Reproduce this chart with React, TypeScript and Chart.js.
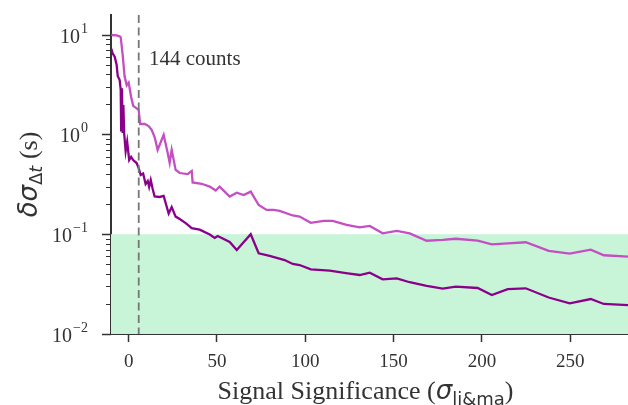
import React, { useEffect, useRef } from 'react';
import { Chart, registerables } from 'chart.js';

Chart.register(...registerables);

// ---- data ----
const upperX = [-9.8, -6.8, -5.1, -4.5, -3.4, -2.3, -1.1, 0.0, 1.4, 2.55, 4.5, 5.66, 6.5, 9.1, 11.3, 13.0, 14.7, 16.4, 19.8, 22.1, 23.2, 24.35, 26.6, 28.9, 33.4, 35.7, 36.2, 41.3, 45.9, 49.3, 51.5, 57.2, 61.2, 65.1, 69.1, 73.6, 78.1, 82.1, 85.5, 92.9, 96.8, 103.1, 110.4, 115.5, 123.4, 130.8, 136.5, 143.8, 151.8, 159.1, 168.7, 177.8, 185.2, 197.6, 205.6, 214.6, 224.8, 237.8, 249.7, 261.6, 269.0, 283.0];
const upperY = [9.9, 9.8, 9.6, 9.4, 6.3, 3.8, 3.1, 3.3, 2.37, 1.93, 1.82, 1.76, 1.27, 1.27, 1.21, 1.11, 0.94, 0.70, 0.99, 0.65, 0.52, 0.70, 0.44, 0.41, 0.40, 0.43, 0.33, 0.32, 0.30, 0.274, 0.30, 0.238, 0.26, 0.247, 0.267, 0.196, 0.175, 0.175, 0.171, 0.154, 0.150, 0.130, 0.136, 0.136, 0.124, 0.117, 0.121, 0.102, 0.108, 0.102, 0.086, 0.0875, 0.090, 0.086, 0.079, 0.081, 0.083, 0.068, 0.064, 0.070, 0.0615, 0.0596];

const lowerX = [-9.8, -9.1, -7.9, -6.8, -6.2, -5.1, -4.5, -4.25, -3.8, -3.4, -3.0, -2.55, -1.7, -0.85, 0.3, 1.4, 2.55, 4.5, 5.66, 6.8, 8.2, 9.6, 10.8, 11.6, 12.5, 13.6, 14.7, 17.55, 19.8, 22.65, 24.35, 26.6, 28.9, 32.3, 35.7, 40.2, 45.9, 48.7, 50.4, 57.2, 61.2, 69.1, 73.6, 79.8, 88.3, 92.9, 96.8, 103.1, 113.8, 124.0, 130.8, 136.5, 143.8, 151.8, 159.1, 168.7, 177.8, 185.2, 197.6, 205.6, 214.6, 224.8, 237.8, 249.7, 261.6, 269.0, 283.0];
const lowerY = [7.2, 6.5, 6.0, 4.95, 3.85, 3.5, 2.8, 1.1, 2.9, 1.03, 1.97, 1.03, 0.68, 0.845, 0.553, 0.594, 0.553, 0.516, 0.46, 0.392, 0.406, 0.318, 0.341, 0.297, 0.349, 0.284, 0.239, 0.236, 0.242, 0.161, 0.187, 0.15, 0.142, 0.129, 0.115, 0.111, 0.0993, 0.0917, 0.096, 0.0836, 0.0695, 0.100, 0.0644, 0.0605, 0.0551, 0.0503, 0.0491, 0.0445, 0.0431, 0.0405, 0.039, 0.0411, 0.0353, 0.0361, 0.033, 0.0303, 0.0285, 0.0298, 0.0289, 0.0246, 0.0282, 0.0287, 0.0232, 0.0203, 0.0224, 0.020, 0.01945];

const xTickValues = [0, 50, 100, 150, 200, 250];
const yDecadeExponents = [-2, -1, 0, 1];
const bandRange = [0.01, 0.1];
const countsLineX = 5.7;
const countsLabel = '144 counts';
const countsLabelPos = [11.5, 5.0];
const xTitleParts = ['Signal Significance (', 'σ', 'li&ma', ')'];
const yTitleParts = ['δσ', 'Δ', 't', ' (s)'];

const X_MIN = -10;
const X_MAX = 282.7;
const Y_MIN = 0.01;
const Y_MAX = 15.7;

const AXIS_COLOR = '#333333';
const TEXT_COLOR = '#333333';
const SERIF = '"Liberation Serif", "Times New Roman", serif';
const SANS = '"DejaVu Sans", sans-serif';

const overlayPlugin = {
  id: 'overlay',
  beforeDatasetsDraw(chart: any) {
    const { ctx, chartArea: ca, scales } = chart;
    const y = scales.y;
    const yTop = y.getPixelForValue(bandRange[1]);
    const yBot = y.getPixelForValue(bandRange[0]);
    ctx.save();
    ctx.fillStyle = 'rgb(200,245,216)';
    ctx.fillRect(ca.left, yTop, ca.right - ca.left, yBot - yTop);
    ctx.restore();
  },
  afterDatasetsDraw(chart: any) {
    const { ctx, chartArea: ca, scales } = chart;
    const x = scales.x;
    const y = scales.y;
    ctx.save();
    const px = x.getPixelForValue(countsLineX);
    ctx.strokeStyle = '#777777';
    ctx.lineWidth = 1.8;
    ctx.setLineDash([8, 4.5]);
    ctx.beginPath();
    ctx.moveTo(px, ca.top);
    ctx.lineTo(px, ca.bottom);
    ctx.stroke();
    ctx.setLineDash([]);
    ctx.fillStyle = TEXT_COLOR;
    ctx.font = `21px ${SERIF}`;
    ctx.textAlign = 'left';
    ctx.textBaseline = 'alphabetic';
    ctx.fillText(countsLabel, x.getPixelForValue(countsLabelPos[0]), y.getPixelForValue(countsLabelPos[1]));
    ctx.restore();
  },
  afterDraw(chart: any) {
    const { ctx, chartArea: ca, scales } = chart;
    const y = scales.y;
    ctx.save();
    // y ticks (major + minor)
    ctx.strokeStyle = AXIS_COLOR;
    for (const e of yDecadeExponents) {
      const base = Math.pow(10, e);
      for (let k = 1; k <= 9; k++) {
        const v = base * k;
        if (v < Y_MIN - 1e-12 || v > Y_MAX) continue;
        const py = Math.round(y.getPixelForValue(v)) + 0.5;
        const len = k === 1 ? 9 : 5;
        ctx.lineWidth = k === 1 ? 1.5 : 1;
        ctx.beginPath();
        ctx.moveTo(ca.left, py);
        ctx.lineTo(ca.left - len, py);
        ctx.stroke();
      }
    }
    // y tick labels 10^e
    ctx.fillStyle = TEXT_COLOR;
    ctx.textBaseline = 'alphabetic';
    ctx.textAlign = 'left';
    const xr = ca.left - 23;
    for (const e of yDecadeExponents) {
      const py = y.getPixelForValue(Math.pow(10, e));
      const sup = e < 0 ? '\u2212' + Math.abs(e) : String(e);
      ctx.font = `14px ${SERIF}`;
      const ws = ctx.measureText(sup).width;
      ctx.font = `20px ${SERIF}`;
      const wb = ctx.measureText('10').width;
      const x0 = xr - ws - wb - 1;
      ctx.fillText('10', x0, py + 8);
      ctx.font = `14px ${SERIF}`;
      ctx.fillText(sup, x0 + wb + 1, py - 2);
    }

    // x title
    const xParts = [
      { t: xTitleParts[0], f: `26px ${SERIF}`, dy: 0 },
      { t: xTitleParts[1], f: `italic 26px ${SANS}`, dy: 0 },
      { t: xTitleParts[2], f: `18px ${SANS}`, dy: 6 },
      { t: xTitleParts[3], f: `26px ${SERIF}`, dy: 0 },
    ];
    let total = 0;
    for (const p of xParts) { ctx.font = p.f; total += ctx.measureText(p.t).width; }
    let cx = (ca.left + ca.right) / 2 - total / 2 - 4;
    const xBase = 399;
    for (const p of xParts) {
      ctx.font = p.f;
      ctx.fillText(p.t, cx, xBase + p.dy);
      cx += ctx.measureText(p.t).width;
    }

    // y title (rotated)
    const yParts = [
      { t: yTitleParts[0], f: `italic 26px ${SANS}`, dy: 0 },
      { t: yTitleParts[1], f: `18px ${SANS}`, dy: 5 },
      { t: yTitleParts[2], f: `italic 18px ${SANS}`, dy: 5 },
      { t: yTitleParts[3], f: `26px ${SERIF}`, dy: 0 },
    ];
    total = 0;
    for (const p of yParts) { ctx.font = p.f; total += ctx.measureText(p.t).width; }
    ctx.translate(37, (ca.top + ca.bottom) / 2);
    ctx.rotate(-Math.PI / 2);
    let tx = -total / 2;
    for (const p of yParts) {
      ctx.font = p.f;
      ctx.fillText(p.t, tx, p.dy);
      tx += ctx.measureText(p.t).width;
    }
    ctx.restore();
  },
};

export default function App() {
  const canvasRef = useRef<HTMLCanvasElement | null>(null);

  useEffect(() => {
    document.body.style.margin = '0';
    const canvas = canvasRef.current;
    if (!canvas) return;
    const chart = new Chart(canvas, {
      type: 'line',
      data: {
        datasets: [
          {
            label: 'upper',
            data: upperX.map((v, i) => ({ x: v, y: upperY[i] })),
            borderColor: 'rgb(196,78,196)',
            borderWidth: 2.3,
            pointRadius: 0,
            tension: 0,
            fill: false,
          },
          {
            label: 'lower',
            data: lowerX.map((v, i) => ({ x: v, y: lowerY[i] })),
            borderColor: 'rgb(139,0,139)',
            borderWidth: 2.3,
            pointRadius: 0,
            tension: 0,
            fill: false,
          },
        ],
      },
      options: {
        responsive: false,
        animation: false,
        devicePixelRatio: 1,
        layout: { padding: { top: 15, right: 0, left: 0, bottom: 0 } },
        plugins: {
          legend: { display: false },
          tooltip: { enabled: false },
        },
        scales: {
          x: {
            type: 'linear',
            min: X_MIN,
            max: X_MAX,
            afterBuildTicks: (s: any) => {
              s.ticks = xTickValues.map((v) => ({ value: v }));
            },
            afterFit: (s: any) => {
              s.height = 71;
            },
            grid: {
              drawOnChartArea: false,
              drawTicks: true,
              tickLength: 8,
              tickWidth: 1.5,
              tickColor: AXIS_COLOR,
              color: AXIS_COLOR,
            },
            border: { display: true, color: AXIS_COLOR, width: 2 },
            ticks: {
              color: TEXT_COLOR,
              font: { family: SERIF, size: 19 },
              padding: 9,
              maxRotation: 0,
              autoSkip: false,
            },
          },
          y: {
            type: 'logarithmic',
            min: Y_MIN,
            max: Y_MAX,
            afterFit: (s: any) => {
              s.width = 111;
            },
            grid: { drawOnChartArea: false, drawTicks: false },
            border: { display: true, color: AXIS_COLOR, width: 2 },
            ticks: { display: false },
          },
        },
      },
      plugins: [overlayPlugin],
    } as any);
    return () => chart.destroy();
  }, []);

  return (
    <div style={{ width: 628, height: 405, background: '#ffffff' }}>
      <canvas ref={canvasRef} width={628} height={405} style={{ display: 'block' }} />
    </div>
  );
}
